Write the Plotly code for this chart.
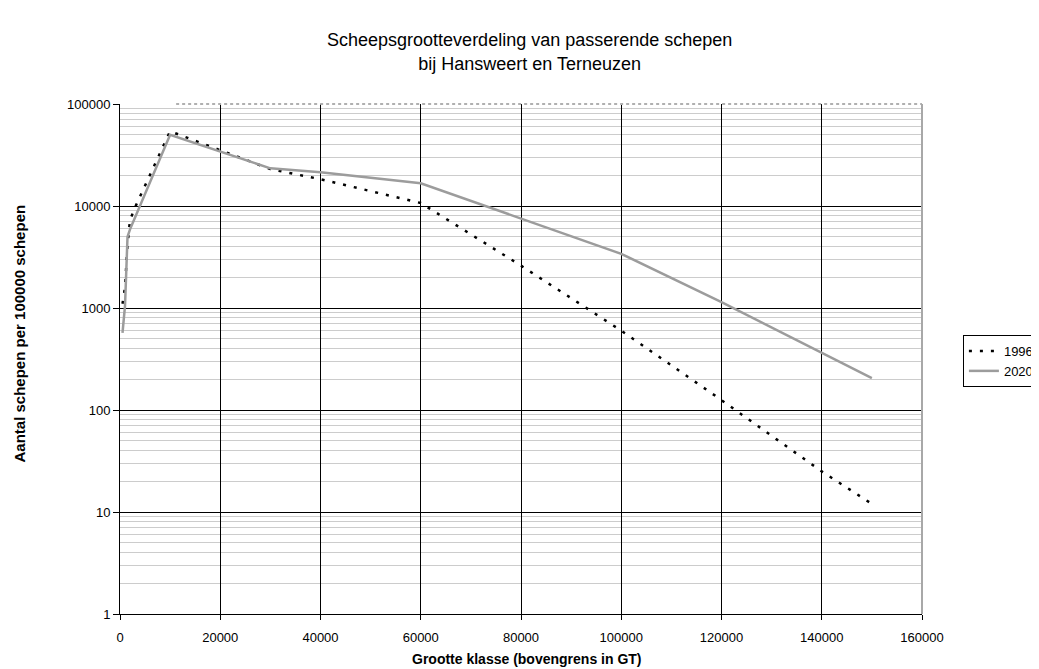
import plotly.graph_objects as go

# Data
grootte_klasse = [500, 1000, 1500, 2000, 3000, 10000, 30000, 40000, 60000,
                  80000, 100000, 120000, 140000, 150000]
schepen_1996 = [1100, 1600, 4200, 7300, 9700, 54000, 23000, 18300, 10700,
                2600, 600, 125, 25, 12]
schepen_2020 = [570, 1050, 5000, 5900, 7700, 50000, 23400, 21400, 16700,
                7600, 3400, 1140, 360, 205]
serie_namen = ["1996", "2020"]

y_tickvals = [1, 10, 100, 1000, 10000, 100000]
y_ticktext = ["1", "10", "100", "1000", "10000", "100000"]

font_fam = "Liberation Sans, Arial, sans-serif"

fig = go.Figure()
fig.add_trace(go.Scatter(
    x=grootte_klasse, y=schepen_1996, name=serie_namen[0], mode="lines",
    line=dict(color="black", width=2.5, dash="3px,8px"),
))
fig.add_trace(go.Scatter(
    x=grootte_klasse, y=schepen_2020, name=serie_namen[1], mode="lines",
    line=dict(color="#9c9c9c", width=2.5),
))

fig.update_layout(
    width=1031, height=661,
    margin=dict(l=112, r=117, t=96, b=55, autoexpand=False),
    paper_bgcolor="white", plot_bgcolor="white",
    title=dict(
        text="Scheepsgrootteverdeling van passerende schepen<br>bij Hansweert en Terneuzen",
        x=0.506, xref="container", xanchor="center",
        y=0.942, yref="container", yanchor="top",
        font=dict(family=font_fam, size=18, color="black"),
    ),
    showlegend=True,
    legend=dict(
        x=1.051, xanchor="left", y=0.547, yanchor="top",
        bgcolor="white", bordercolor="black", borderwidth=1,
        font=dict(family=font_fam, size=13, color="black"),
        tracegroupgap=0, itemwidth=30,
    ),
    xaxis=dict(
        range=[0, 160000], dtick=20000, tick0=0, tickformat="d",
        showgrid=True, gridcolor="black", gridwidth=1,
        showline=True, linecolor="black", linewidth=1,
        ticks="outside", ticklen=5, tickcolor="black",
        ticklabelstandoff=6,
        zeroline=False,
        tickfont=dict(family=font_fam, size=13, color="black"),
    ),
    yaxis=dict(
        type="log", range=[0, 5],
        tickvals=y_tickvals, ticktext=y_ticktext,
        showgrid=True, gridcolor="black", gridwidth=1,
        showline=True, linecolor="black", linewidth=1,
        ticks="outside", ticklen=6, tickcolor="black",
        zeroline=False,
        minor=dict(dtick="D1", showgrid=True, gridcolor="#cccccc", gridwidth=1, ticks=""),
        tickfont=dict(family=font_fam, size=13, color="black"),
    ),
)

# axis titles
fig.add_annotation(
    text="<b>Grootte klasse (bovengrens in GT)</b>",
    xref="paper", yref="paper", x=0.5075, y=-0.088,
    xanchor="center", yanchor="middle", showarrow=False,
    font=dict(family=font_fam, size=14, color="black"),
)
fig.add_annotation(
    text="<b>Aantal schepen per 100000 schepen</b>",
    xref="paper", yref="paper", x=-0.1247, y=0.55, textangle=-90,
    xanchor="center", yanchor="middle", showarrow=False,
    font=dict(family=font_fam, size=15, color="black"),
)

# plot-area border (top and right), as in the original
fig.add_shape(type="line", xref="paper", yref="paper", x0=0.07, x1=1, y0=1, y1=1,
              line=dict(color="#b0b0b0", width=2, dash="dot"))
fig.add_shape(type="line", xref="paper", yref="paper", x0=1, x1=1, y0=0, y1=1,
              line=dict(color="#a8a8a8", width=2))

fig.write_html("out.html")
